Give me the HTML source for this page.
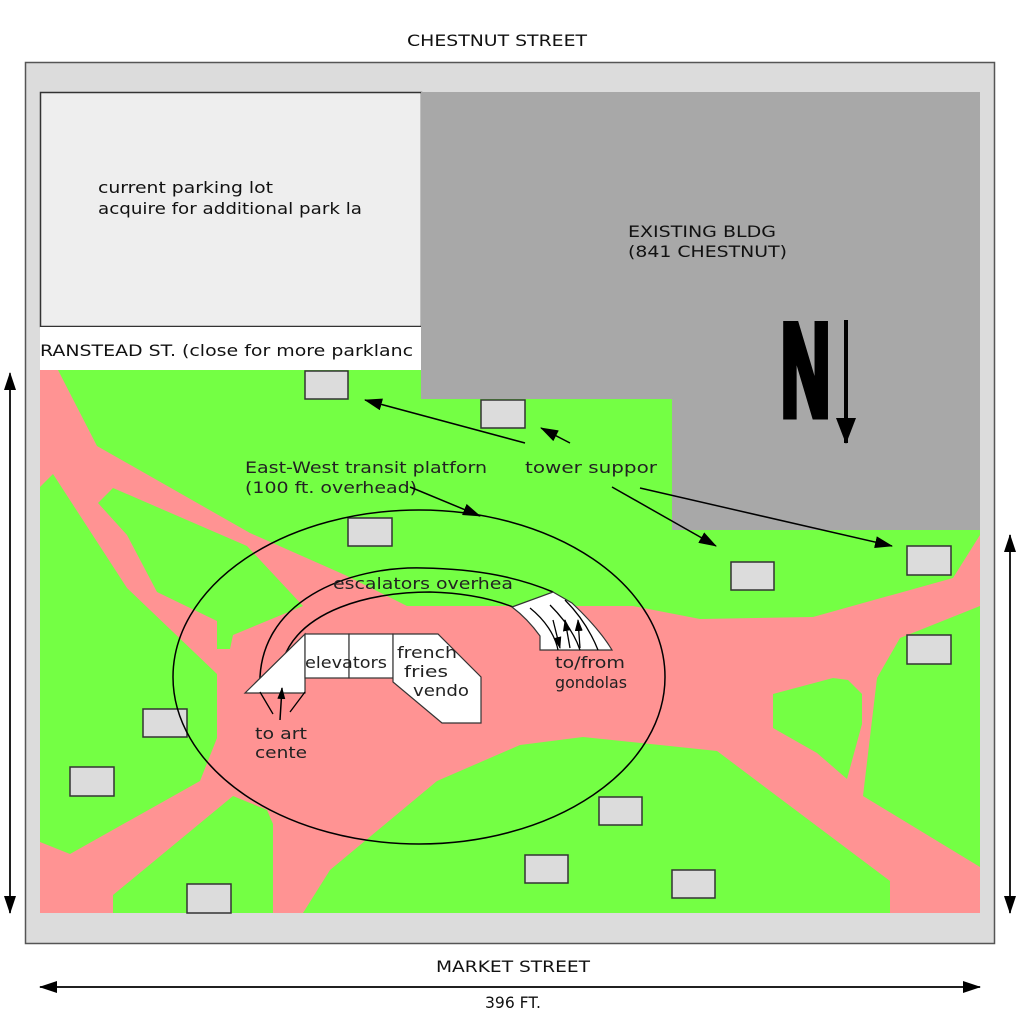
<!DOCTYPE html>
<html><head><meta charset="utf-8"><style>html,body{margin:0;padding:0;background:#fff}svg{display:block}</style></head>
<body>
<svg width="1024" height="1024" viewBox="0 0 1024 1024" xmlns="http://www.w3.org/2000/svg" font-family="'DejaVu Sans', 'Liberation Sans', sans-serif">
<defs>
<marker id="ah2" markerWidth="18" markerHeight="12" refX="17" refY="6" orient="auto" markerUnits="userSpaceOnUse"><path d="M0,0 L18,6 L0,12 z" fill="#000"/></marker>
<marker id="ahN" markerWidth="26" markerHeight="20" refX="25" refY="10" orient="auto" markerUnits="userSpaceOnUse"><path d="M0,0 L26,10 L0,20 z" fill="#000"/></marker>
<marker id="as" markerWidth="12" markerHeight="8" refX="11" refY="4" orient="auto" markerUnits="userSpaceOnUse"><path d="M0,0 L12,4 L0,8 z" fill="#000"/></marker>
<clipPath id="park"><rect x="40" y="370" width="940" height="543"/></clipPath>
</defs>
<rect width="1024" height="1024" fill="#fff"/>
<text x="497" y="46" font-size="16" text-anchor="middle" textLength="180" lengthAdjust="spacingAndGlyphs" fill="#111">CHESTNUT STREET</text>
<rect x="25.5" y="62.5" width="969" height="881" fill="#dcdcdc" stroke="#555" stroke-width="1.5"/>
<rect x="40.5" y="92.5" width="381" height="234" fill="#eeeeee" stroke="#333" stroke-width="1.5"/>
<rect x="40" y="327" width="381" height="43" fill="#fff"/>

<g clip-path="url(#park)">
<rect x="40" y="370" width="940" height="543" fill="#ff9393"/>
<g fill="#74ff44">
<polygon points="58,370 421,370 421,399 672,399 672,530 980,530 980,535 953,578 813,617 700,619 633,606 407,606 345,575 250,533 97,446"/>
<polygon points="40,487 53,474 127,588 217,674 217,738 200,781 70,854 40,842"/>
<polygon points="98,503 113,488 247,546 303,606 233,635 230,649 217,649 217,621 157,592 127,535"/>
<polygon points="113,913 113,895 233,796 267,810 273,824 273,913"/>
<polygon points="303,913 330,870 437,781 520,745 583,737 717,751 890,881 890,913"/>
<polygon points="980,606 900,638 877,678 863,796 980,867"/>
<polygon points="773,694 833,678 848,680 862,694 862,724 847,779 817,753 773,728"/>
</g>
</g>
<polygon points="421,92 980,92 980,530 672,530 672,399 421,399" fill="#a8a8a8"/>

<text x="98" y="193" font-size="16" fill="#111" textLength="175" lengthAdjust="spacingAndGlyphs">current parking lot</text>
<text x="98" y="214" font-size="16" fill="#111" textLength="264" lengthAdjust="spacingAndGlyphs">acquire for additional park la</text>
<text x="40" y="356" font-size="16" fill="#111" textLength="373" lengthAdjust="spacingAndGlyphs">RANSTEAD ST. (close for more parklanc</text>
<text x="628" y="237" font-size="16" fill="#111" textLength="148" lengthAdjust="spacingAndGlyphs">EXISTING BLDG</text>
<text x="628" y="257" font-size="16" fill="#111" textLength="159" lengthAdjust="spacingAndGlyphs">(841 CHESTNUT)</text>
<text x="0" y="0" font-size="130" font-weight="bold" font-family="'Liberation Sans', sans-serif" transform="translate(781,415) scale(0.6,1)" fill="#000" stroke="#000" stroke-width="9" textLength="82" lengthAdjust="spacingAndGlyphs">N</text>
<line x1="846" y1="320" x2="846" y2="443" stroke="#000" stroke-width="4" marker-end="url(#ahN)"/>

<g fill="#dcdcdc" stroke="#333" stroke-width="1.5">
<rect x="305" y="371" width="43" height="28"/>
<rect x="481" y="400" width="44" height="28"/>
<rect x="348" y="518" width="44" height="28"/>
<rect x="143" y="709" width="44" height="28"/>
<rect x="70" y="767" width="44" height="29"/>
<rect x="187" y="884" width="44" height="29"/>
<rect x="599" y="797" width="43" height="28"/>
<rect x="525" y="855" width="43" height="28"/>
<rect x="672" y="870" width="43" height="28"/>
<rect x="731" y="562" width="43" height="28"/>
<rect x="907" y="546" width="44" height="29"/>
<rect x="907" y="635" width="44" height="29"/>
</g>

<ellipse cx="419" cy="677" rx="246" ry="167" fill="none" stroke="#000" stroke-width="1.5"/>
<path d="M260,690 C255,600 350,566 423,568 C480,569 520,578 553,592" fill="none" stroke="#000" stroke-width="1.5"/>
<path d="M283,660 C300,610 370,592 430,592 C470,593 495,600 513,607" fill="none" stroke="#000" stroke-width="1.5"/>

<g fill="#fff" stroke="#333" stroke-width="1.2">
<polygon points="245,693 305,634 305,693"/>
<rect x="305" y="634" width="44" height="44"/>
<rect x="349" y="634" width="44" height="44"/>
<polygon points="393,634 438,634 481,677 481,723 442,723 393,682"/>
<path d="M512,607 L553,592 L572,603 C590,620 603,635 612,650 L540,650 L540,636 C530,622 520,613 512,607 Z"/>
</g>
<g fill="none" stroke="#000" stroke-width="1.3">
<path d="M530,608 C545,620 555,635 558,650"/>
<path d="M550,605 C565,620 575,635 580,650"/>
<path d="M565,600 C582,617 592,635 598,650"/>
</g>
<line x1="553" y1="620" x2="560" y2="648" stroke="#000" stroke-width="1.3" marker-end="url(#as)"/>
<line x1="570" y1="648" x2="565" y2="620" stroke="#000" stroke-width="1.3" marker-end="url(#as)"/>
<line x1="580" y1="648" x2="578" y2="620" stroke="#000" stroke-width="1.3" marker-end="url(#as)"/>
<line x1="280" y1="720" x2="282" y2="688" stroke="#000" stroke-width="1.5" marker-end="url(#as)"/>
<path d="M260,692 L273,714 M305,692 L290,712" stroke="#000" stroke-width="1.3" fill="none"/>

<g font-size="16" fill="#222">
<text x="245" y="473" textLength="242" lengthAdjust="spacingAndGlyphs">East-West transit platforn</text>
<text x="245" y="493" textLength="172" lengthAdjust="spacingAndGlyphs">(100 ft. overhead)</text>
<text x="525" y="473" textLength="132" lengthAdjust="spacingAndGlyphs">tower suppor</text>
<text x="333" y="589" textLength="180" lengthAdjust="spacingAndGlyphs">escalators overhea</text>
<text x="305" y="668" textLength="82" lengthAdjust="spacingAndGlyphs">elevators</text>
<text x="397" y="658" textLength="60" lengthAdjust="spacingAndGlyphs">french</text>
<text x="404" y="677" textLength="44" lengthAdjust="spacingAndGlyphs">fries</text>
<text x="413" y="696" textLength="56" lengthAdjust="spacingAndGlyphs">vendo</text>
<text x="555" y="668" textLength="70" lengthAdjust="spacingAndGlyphs">to/from</text>
<text x="555" y="688" textLength="72" lengthAdjust="spacingAndGlyphs">gondolas</text>
<text x="255" y="739" textLength="52" lengthAdjust="spacingAndGlyphs">to art</text>
<text x="255" y="758" textLength="52" lengthAdjust="spacingAndGlyphs">cente</text>
</g>

<g stroke="#000" stroke-width="1.5" fill="none">
<line x1="525" y1="443" x2="365" y2="400" marker-end="url(#ah2)"/>
<line x1="570" y1="443" x2="541" y2="428" marker-end="url(#ah2)"/>
<line x1="410" y1="487" x2="480" y2="516" marker-end="url(#ah2)"/>
<line x1="612" y1="487" x2="716" y2="546" marker-end="url(#ah2)"/>
<line x1="640" y1="488" x2="892" y2="546" marker-end="url(#ah2)"/>
</g>

<g stroke="#000" stroke-width="1.5">
<line x1="10" y1="375" x2="10" y2="913" marker-end="url(#ah2)"/>
<line x1="10" y1="913" x2="10" y2="373" marker-end="url(#ah2)"/>
<line x1="1010" y1="913" x2="1010" y2="535" marker-end="url(#ah2)"/>
<line x1="1010" y1="535" x2="1010" y2="913" marker-end="url(#ah2)"/>
<line x1="40" y1="987" x2="980" y2="987" marker-end="url(#ah2)"/>
<line x1="980" y1="987" x2="40" y2="987" marker-end="url(#ah2)"/>
</g>
<text x="513" y="972" font-size="16" text-anchor="middle" textLength="154" lengthAdjust="spacingAndGlyphs" fill="#111">MARKET STREET</text>
<text x="513" y="1008" font-size="16" text-anchor="middle" textLength="56" lengthAdjust="spacingAndGlyphs" fill="#111">396 FT.</text>
</svg>
</body></html>
